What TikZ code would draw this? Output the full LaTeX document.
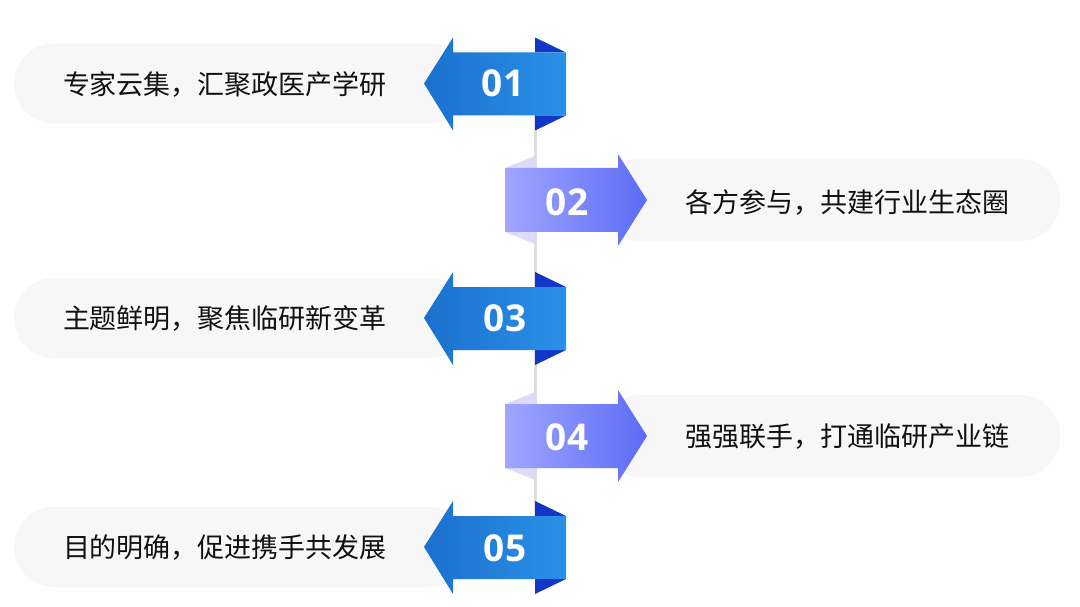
\documentclass[tikz,border=0pt]{standalone}
\usepackage{fontspec}
\setmainfont{Noto Sans CJK SC}
\newfontfamily\numfont{Open Sans}
\definecolor{pillgray}{HTML}{F7F7F7}
\definecolor{blueL}{HTML}{1B70CE}
\definecolor{blueR}{HTML}{2A90E8}
\definecolor{blueD}{HTML}{1236C8}
\definecolor{purL}{HTML}{A0A6FF}
\definecolor{purR}{HTML}{5C6BF5}
\definecolor{purT}{HTML}{DCDCF8}
\definecolor{linegray}{HTML}{DDDDDD}
\definecolor{txtcol}{HTML}{111111}
\tikzset{
  pill/.style={fill=pillgray, rounded corners=40pt},
  txt/.style={font=\fontsize{27}{31}\selectfont, text=txtcol, inner sep=0pt},
  num/.style={font=\numfont\bfseries\fontsize{37}{41}\selectfont, text=white, inner sep=0pt},
  larrowshape/.style={left color=blueL, right color=blueR, draw=none},
  rarrowshape/.style={left color=purL, right color=purR, draw=none},
  darktri/.style={fill=blueD},
  lighttri/.style={fill=purT},
  spine/.style={draw=linegray, line width=3pt},
}
\begin{document}
\begin{tikzpicture}[x=1pt,y=-1pt]
\useasboundingbox[fill=white] (0,0) rectangle (1080,607);
% pills
\foreach \c in {83.5,318,547}{
  \fill[pill] (14,\c-40) rectangle (470,\c+40);
}
\foreach \c in {200,436}{
  \fill[pill] (600,\c-41) rectangle (1060,\c+41);
}
% spine
\coordinate (top) at (535,83);
\coordinate (bot) at (535,547);
\draw[spine] (top) -- (bot);
% left arrows
\foreach \c in {83.5,318,547}{
  \fill[darktri] (535,\c-46) -- (566,\c-31) -- (535,\c-31) -- cycle;
  \fill[darktri] (535,\c+32) -- (566,\c+32) -- (535,\c+47) -- cycle;
  \shade[larrowshape] (424,\c) -- (453,\c-46) -- (453,\c-31) -- (566,\c-31) -- (566,\c+32) -- (453,\c+32) -- (453,\c+47) -- cycle;
}
% right arrows
\foreach \c in {200,436}{
  \fill[lighttri] (505,\c-32) -- (535,\c-44) -- (535,\c-32) -- cycle;
  \fill[lighttri] (505,\c+32) -- (535,\c+32) -- (535,\c+44) -- cycle;
  \shade[rarrowshape] (505,\c-32) -- (618,\c-32) -- (618,\c-46) -- (647,\c) -- (618,\c+46) -- (618,\c+32) -- (505,\c+32) -- cycle;
}
% numbers
\node[num] (n1) at (503,83.5) {01};
\node[num] (n2) at (567,202) {02};
\node[num] (n3) at (505,318) {03};
\node[num] (n4) at (567,437) {04};
\node[num] (n5) at (505,548) {05};
% texts
\node[txt] (t1) at (225,84) {专家云集，汇聚政医产学研};
\node[txt] (t2) at (847,202) {各方参与，共建行业生态圈};
\node[txt] (t3) at (225,318) {主题鲜明，聚焦临研新变革};
\node[txt] (t4) at (847,437) {强强联手，打通临研产业链};
\node[txt] (t5) at (225,548) {目的明确，促进携手共发展};
\end{tikzpicture}
\end{document}
